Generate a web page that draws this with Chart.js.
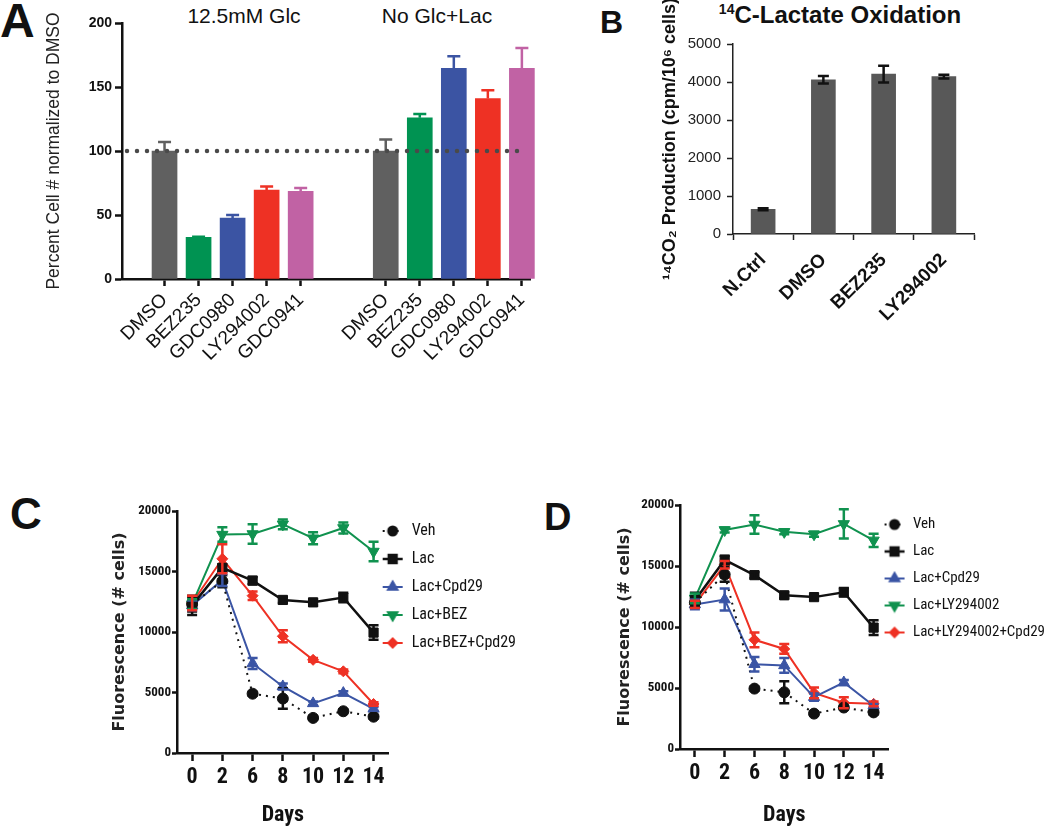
<!DOCTYPE html>
<html>
<head>
<meta charset="utf-8">
<script src="https://cdn.jsdelivr.net/npm/chart.js"></script>
<style>
  body { margin: 0; width: 1050px; height: 829px; background: #fff; overflow: hidden; position: relative; font-family: "Liberation Sans", Arial, sans-serif; }
  canvas { position: absolute; }
  .lbl { position: absolute; line-height: 1; white-space: nowrap; color: #111; }
  .letter { font-weight: bold; }
  .center { transform: translateX(-50%); }
</style>
</head>
<body>
<div class="lbl letter" style="left:0px; top:-3px; font-size:48px;">A</div>
<div class="lbl letter" style="left:600px; top:6px; font-size:32px;">B</div>
<div class="lbl letter" style="left:10px; top:492px; font-size:44px;">C</div>
<div class="lbl letter" style="left:544px; top:498px; font-size:38px;">D</div>
<div class="lbl center" style="left:244px; top:5px; font-size:21px;">12.5mM Glc</div>
<div class="lbl center" style="left:437px; top:5px; font-size:21px;">No Glc+Lac</div>
<div class="lbl center" style="left:840px; top:2px; font-size:24px; font-weight:bold;"><sup style="font-size:14px;">14</sup>C-Lactate Oxidation</div>

<canvas id="chartA" width="501" height="400" style="left:40px; top:0px;"></canvas>
<canvas id="chartB" width="344" height="330" style="left:640px; top:0px;"></canvas>
<canvas id="chartC" width="450" height="339" style="left:95px; top:490px;"></canvas>
<canvas id="chartD" width="472" height="344" style="left:600px; top:485px;"></canvas>

<script>
// ---- Panel A: cell number, two media ----
const drugs = ["DMSO", "BEZ235", "GDC0980", "LY294002", "GDC0941"];
const drugColors = ["#606060", "#009352", "#3b54a3", "#ee3124", "#c162a4"];
const glcValues = [100, 32.5, 47.5, 69.5, 68.5];
const glcErrors = [7, 0.6, 2.5, 2.8, 2.5];
const lacValues = [100, 126, 164.5, 141, 164.5];
const lacErrors = [9, 3, 9.5, 6.5, 16];

// ---- Panel B: 14C-lactate oxidation ----
const oxCategories = ["N.Ctrl", "DMSO", "BEZ235", "LY294002"];
const oxValues = [650, 4060, 4210, 4140];
const oxErrors = [25, 100, 220, 50];

// ---- Panels C / D: fluorescence over time ----
const days = ["0", "2", "6", "8", "10", "12", "14"];

const vehC = [12300, 14200, 4900, 4500, 2900, 3450, 3000];
const vehCErr = [600, 500, 150, 850, 150, 150, 150];
const lacC = [12200, 15300, 14250, 12650, 12450, 12850, 9950];
const lacCErr = [800, 300, 300, 250, 250, 400, 600];
const cpdC = [12200, 14300, 7400, 5500, 4100, 4950, 3650];
const cpdCErr = [400, 500, 450, 250, 150, 150, 150];
const bezC = [12300, 18050, 18100, 18900, 17750, 18600, 16650];
const bezCErr = [400, 600, 800, 400, 500, 450, 800];
const bezCpdC = [12400, 16050, 13000, 9650, 7700, 6750, 4050];
const bezCpdCErr = [600, 1200, 350, 500, 150, 150, 150];

const vehD = [12000, 14300, 4950, 4650, 2900, 3400, 3000];
const vehDErr = [400, 600, 150, 900, 150, 150, 150];
const lacD = [12200, 15500, 14250, 12600, 12450, 12850, 9950];
const lacDErr = [600, 350, 250, 250, 200, 350, 600];
const cpdD = [11850, 12250, 6950, 6850, 4250, 5450, 3550];
const cpdDErr = [400, 900, 600, 600, 300, 200, 150];
const lyD = [12350, 17950, 18400, 17800, 17600, 18450, 17100];
const lyDErr = [400, 200, 750, 200, 200, 1200, 550];
const lyCpdD = [11850, 15100, 8950, 8200, 4600, 3800, 3700];
const lyCpdDErr = [300, 300, 600, 400, 450, 450, 200];

const BLACK = "#111";
const NARROW = '"Roboto Condensed", "DejaVu Sans Condensed", sans-serif';
Chart.defaults.font.family = '"Liberation Sans", Arial, sans-serif';
Chart.defaults.color = BLACK;

// === Error bars drawn from dataset.errors through the y scale ===
const errorBars = {
  id: "errorBars",
  afterDatasetsDraw(chart) {
    const ctx = chart.ctx;
    const y = chart.scales.y;
    chart.data.datasets.forEach((ds, di) => {
      if (!ds.errors) return;
      const meta = chart.getDatasetMeta(di);
      meta.data.forEach((el, i) => {
        const v = ds.data[i];
        const e = ds.errors[i];
        if (v == null || e == null) return;
        const color = Array.isArray(ds.errorColor) ? ds.errorColor[i] : ds.errorColor;
        const top = y.getPixelForValue(v + e);
        const bottom = y.getPixelForValue(ds.errorMode === "up" ? v : v - e);
        const half = ds.capWidth / 2;
        ctx.save();
        ctx.strokeStyle = color;
        ctx.lineWidth = ds.errorLineWidth;
        ctx.beginPath();
        ctx.moveTo(el.x, top);
        ctx.lineTo(el.x, bottom);
        ctx.moveTo(el.x - half, top);
        ctx.lineTo(el.x + half, top);
        if (ds.errorMode !== "up") {
          ctx.moveTo(el.x - half, bottom);
          ctx.lineTo(el.x + half, bottom);
        }
        ctx.stroke();
        ctx.restore();
      });
    });
  },
};

// === Dotted reference line (panel A) ===
const refLine = {
  id: "refLine",
  afterDatasetsDraw(chart, args, opts) {
    const { ctx, chartArea } = chart;
    const py = chart.scales.y.getPixelForValue(opts.value);
    ctx.save();
    ctx.strokeStyle = "#4a4a4a";
    ctx.lineWidth = 4.5;
    ctx.lineCap = "round";
    ctx.setLineDash([0, 10]);
    ctx.beginPath();
    ctx.moveTo(chartArea.left + 5, py);
    ctx.lineTo(chartArea.right - 8, py);
    ctx.stroke();
    ctx.restore();
  },
};

// === pull the right-hand legend a bit closer to the plot ===
const legendShift = {
  id: "legendShift",
  afterLayout(chart, args, opts) {
    const lg = chart.legend;
    if (!lg || !opts.dx) return;
    lg.left -= opts.dx;
    lg.right -= opts.dx;
  },
};

const plainTick = (v) => String(v);

// === Panel A ===
// slot layout on the category axis: blanks leave the gaps between bars
const slotCount = 24;
const groupSlots = [
  [2, 4, 6, 8, 10],
  [15, 17, 19, 21, 23],
];
const aLabels = new Array(slotCount).fill("");
const aValues = new Array(slotCount).fill(null);
const aErrors = new Array(slotCount).fill(null);
const aColors = new Array(slotCount).fill("transparent");
[
  [glcValues, glcErrors],
  [lacValues, lacErrors],
].forEach(([vals, errs], g) => {
  groupSlots[g].forEach((slot, i) => {
    aLabels[slot] = drugs[i];
    aValues[slot] = vals[i];
    aErrors[slot] = errs[i];
    aColors[slot] = drugColors[i];
  });
});

new Chart(document.getElementById("chartA"), {
  type: "bar",
  data: {
    labels: aLabels,
    datasets: [
      {
        data: aValues,
        backgroundColor: aColors,
        barThickness: 25,
        clip: false,
        errors: aErrors,
        errorMode: "up",
        errorColor: aColors,
        errorLineWidth: 2.5,
        capWidth: 13,
      },
    ],
  },
  options: {
    responsive: false,
    animation: false,
    layout: { padding: { top: 23, right: 0, left: 0, bottom: 0 } },
    plugins: {
      legend: { display: false },
      tooltip: { enabled: false },
      refLine: { value: 100 },
    },
    scales: {
      x: {
        offset: true,
        grid: {
          drawOnChartArea: false,
          offset: false,
          tickLength: 7,
          tickWidth: 2.5,
          tickColor: (ctx) => (ctx.tick && ctx.tick.label ? BLACK : "transparent"),
        },
        border: { color: BLACK, width: 2.5 },
        ticks: {
          autoSkip: false,
          minRotation: 45,
          maxRotation: 45,
          padding: 3,
          font: { size: 19 },
          color: BLACK,
        },
        afterFit: (s) => {
          s.height = 121;
        },
      },
      y: {
        min: 0,
        max: 200,
        ticks: { stepSize: 50, padding: 3, font: { size: 14, weight: "bold" }, color: BLACK },
        grid: { drawOnChartArea: false, tickLength: 7, tickWidth: 2.5, tickColor: BLACK },
        border: { color: BLACK, width: 2.5 },
        title: {
          display: true,
          text: "Percent Cell # normalized to DMSO",
          font: { size: 17.5 },
          color: "#222",
          padding: { top: 4, bottom: 0 },
        },
        afterFit: (s) => {
          s.width = 82;
        },
      },
    },
  },
  plugins: [errorBars, refLine],
});

// === Panel B ===
new Chart(document.getElementById("chartB"), {
  type: "bar",
  data: {
    labels: oxCategories,
    datasets: [
      {
        data: oxValues,
        backgroundColor: "#585858",
        barThickness: 24,
        errors: oxErrors,
        errorMode: "both",
        errorColor: BLACK,
        errorLineWidth: 2.5,
        capWidth: 11,
      },
    ],
  },
  options: {
    responsive: false,
    animation: false,
    layout: { padding: { top: 44, right: 10, left: 0, bottom: 0 } },
    plugins: { legend: { display: false }, tooltip: { enabled: false } },
    scales: {
      x: {
        grid: { drawOnChartArea: false, offset: true, tickLength: 6, tickWidth: 1.5, tickColor: "#222" },
        border: { color: "#222", width: 1.5 },
        ticks: { minRotation: 45, maxRotation: 45, padding: 9, font: { size: 19, weight: "bold" }, color: BLACK },
        afterFit: (s) => {
          s.height = 96;
        },
      },
      y: {
        min: 0,
        max: 5000,
        ticks: { stepSize: 500, padding: 6, font: { size: 15 }, color: "#222", callback: plainTick },
        grid: { drawOnChartArea: false, tickLength: 6, tickWidth: 1.5, tickColor: "#222" },
        border: { color: "#222", width: 1.5 },
        title: {
          display: true,
          text: "¹⁴CO₂ Production (cpm/10⁶ cells)",
          font: { size: 18, weight: "bold" },
          color: BLACK,
          padding: { top: 19, bottom: 0 },
        },
        afterFit: (s) => {
          s.width = 93;
        },
      },
    },
  },
  plugins: [errorBars],
});

// === Panels C / D ===
function legendIcon(ds) {
  const c = document.createElement("canvas");
  c.width = 22;
  c.height = 16;
  const g = c.getContext("2d");
  g.strokeStyle = ds.borderColor;
  g.fillStyle = ds.borderColor;
  g.lineWidth = ds.borderWidth;
  if (ds.borderDash) g.setLineDash(ds.borderDash);
  g.beginPath();
  g.moveTo(1, 8);
  g.lineTo(21, 8);
  g.stroke();
  g.setLineDash([]);
  if (Chart.helpers && Chart.helpers.drawPoint) {
    Chart.helpers.drawPoint(
      g,
      { pointStyle: ds.pointStyle, radius: ds.pointRadius - 1, rotation: ds.pointRotation || 0, borderWidth: 1 },
      11,
      8
    );
  }
  return c;
}

function series(label, data, errors, color, style, extra) {
  return Object.assign(
    {
      label: label,
      data: data,
      errors: errors,
      errorMode: "both",
      errorColor: color,
      errorLineWidth: 2.5,
      capWidth: 10,
      borderColor: color,
      backgroundColor: color,
      pointBackgroundColor: color,
      pointBorderColor: color,
      borderWidth: 2,
      pointBorderWidth: 1,
      pointStyle: style,
      pointRadius: 6.5,
      tension: 0,
    },
    extra || {}
  );
}

function timeChart(id, datasets, o) {
  return new Chart(document.getElementById(id), {
    type: "line",
    data: { labels: days, datasets: datasets },
    options: {
      responsive: false,
      animation: false,
      layout: { padding: { top: o.padTop, left: 0, right: 0, bottom: 0 } },
      plugins: {
        tooltip: { enabled: false },
        legendShift: { dx: o.legendShift },
        legend: {
          position: "right",
          align: "start",
          maxWidth: 400,
          labels: {
            usePointStyle: true,
            pointStyleWidth: 22,
            padding: 12,
            font: { family: NARROW, size: o.legendSize },
            color: BLACK,
            generateLabels: (chart) =>
              chart.data.datasets.map((ds, i) => ({
                text: ds.label,
                pointStyle: legendIcon(ds),
                fillStyle: ds.borderColor,
                strokeStyle: ds.borderColor,
                lineWidth: 0,
                fontColor: BLACK,
                datasetIndex: i,
              })),
          },
        },
      },
      scales: {
        x: {
          offset: true,
          grid: { drawOnChartArea: false, offset: false, tickLength: 8, tickWidth: 2.5, tickColor: BLACK },
          border: { color: BLACK, width: 2.5 },
          ticks: { autoSkip: false, maxRotation: 0, padding: 3, font: { family: NARROW, size: 22, weight: "bold" }, color: BLACK },
          title: {
            display: true,
            text: "Days",
            font: { family: NARROW, size: 22, weight: "bold" },
            color: BLACK,
            padding: { top: o.daysPad, bottom: 0 },
          },
          afterFit: (s) => {
            s.height = o.xHeight;
          },
        },
        y: {
          min: 0,
          max: 20000,
          ticks: { stepSize: 5000, padding: 1, font: { family: NARROW, size: 13, weight: "bold" }, color: BLACK, callback: plainTick },
          grid: { drawOnChartArea: false, tickLength: 5, tickWidth: 2.5, tickColor: BLACK },
          border: { color: BLACK, width: 2.5 },
          title: {
            display: true,
            text: "Fluorescence (# cells)",
            font: { family: '"DejaVu Sans", sans-serif', size: 16, weight: "bold" },
            color: "#222",
            padding: { top: 15, bottom: 0 },
          },
          afterFit: (s) => {
            s.width = o.yWidth;
          },
        },
      },
    },
    plugins: [errorBars, legendShift],
  });
}

timeChart(
  "chartC",
  [
    series("Veh", vehC, vehCErr, BLACK, "circle", { borderDash: [2, 5], pointRadius: 5.5 }),
    series("Lac", lacC, lacCErr, BLACK, "rect", { borderWidth: 2.5, pointRadius: 6.5 }),
    series("Lac+Cpd29", cpdC, cpdCErr, "#3b55a5", "triangle"),
    series("Lac+BEZ", bezC, bezCErr, "#10924f", "triangle", { pointRotation: 180 }),
    series("Lac+BEZ+Cpd29", bezCpdC, bezCpdCErr, "#ee3124", "rectRot", { pointRadius: 5.5 }),
  ],
  { padTop: 21, yWidth: 82, xHeight: 76, daysPad: 4, legendSize: 16, legendShift: 19 }
);

timeChart(
  "chartD",
  [
    series("Veh", vehD, vehDErr, BLACK, "circle", { borderDash: [2, 5], pointRadius: 5.5 }),
    series("Lac", lacD, lacDErr, BLACK, "rect", { borderWidth: 2.5, pointRadius: 6.5 }),
    series("Lac+Cpd29", cpdD, cpdDErr, "#3b55a5", "triangle"),
    series("Lac+LY294002", lyD, lyDErr, "#10924f", "triangle", { pointRotation: 180 }),
    series("Lac+LY294002+Cpd29", lyCpdD, lyCpdDErr, "#ee3124", "rectRot", { pointRadius: 5.5 }),
  ],
  { padTop: 20, yWidth: 80, xHeight: 80, daysPad: 7, legendSize: 15, legendShift: 17 }
);
</script>
</body>
</html>
